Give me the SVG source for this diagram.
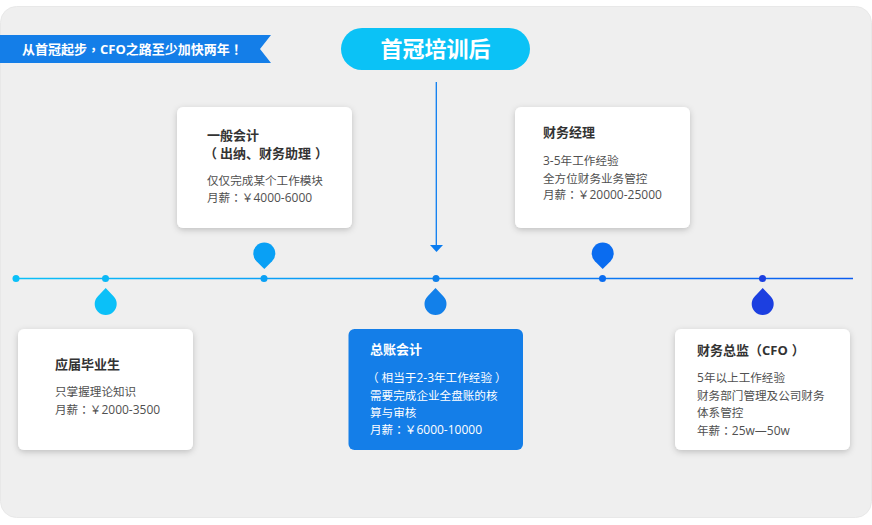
<svg xmlns="http://www.w3.org/2000/svg" width="872" height="525" viewBox="0 0 872 525">
<style>
text{font-family:"Noto Sans CJK SC","Open Sans",sans-serif}
.t{font-size:13px;font-weight:700;fill:#333}
.b{font-size:11.6px;fill:#505050}
.n{font-family:"Open Sans","Noto Sans CJK SC",sans-serif;font-size:12px}
.m{font-family:"Open Sans","Noto Sans CJK SC",sans-serif}
.p{font-family:"Noto Sans CJK TC","Noto Sans CJK SC",sans-serif}
.card{fill:#fff;filter:url(#sh)}
text.w,.w{fill:#fff}
</style>
<defs>
<linearGradient id="line" gradientUnits="userSpaceOnUse" x1="16" y1="0" x2="853" y2="0"><stop offset="0" stop-color="#0bc0f8"/><stop offset="0.5" stop-color="#0a8cf6"/><stop offset="1" stop-color="#0b5cf0"/></linearGradient>
<filter id="sh" x="-10%" y="-10%" width="120%" height="125%"><feDropShadow dx="0" dy="2" stdDeviation="3" flood-color="#000" flood-opacity="0.2"/></filter>
<path id="up" d="M0 -16L7.800 -7.800A11 11 0 1 1 -7.800 -7.800Z"/>
<path id="down" d="M0 15.500L7.800 7.800A11 11 0 1 0 -7.800 7.800Z"/>
</defs>
<rect x="0.500" y="6.500" width="871" height="511" rx="16" fill="#efefef" stroke="#e8e8e8"/>
<g id="banner"><path d="M0 35H271L260 49L271 63H0Z" fill="#147ee8"/><text x="22" y="54" font-size="13" font-weight="700" class="w">从首冠起步<tspan class="p">，</tspan><tspan class="m">CFO</tspan>之路至少加快两年<tspan class="p">！</tspan></text></g>
<g id="title"><rect x="341" y="28" width="189" height="42" rx="21" fill="#0bc2f6"/><text x="435.500" y="56.500" font-size="22" font-weight="700" class="w" text-anchor="middle">首冠培训后</text></g>
<g id="connectors">
<line x1="16" y1="278.500" x2="853" y2="278.500" stroke="url(#line)" stroke-width="1.500"/>
<path d="M436.300 82V246" stroke="#0a7cf0" stroke-width="1.300" fill="none"/><path d="M430 245H443L436.500 252Z" fill="#0a7cf0"/>
</g>
<g id="timeline-dots">
<circle cx="16" cy="278.500" r="3.500" fill="#0bc0f8"/>
<circle cx="105.500" cy="278.500" r="3.500" fill="#0bb8f6"/>
<circle cx="264" cy="278.500" r="3.500" fill="#09a0f5"/>
<circle cx="436" cy="278.500" r="3.500" fill="#0f80ea"/>
<circle cx="602.500" cy="278.500" r="3.500" fill="#0a6cf0"/>
<circle cx="762.500" cy="278.500" r="3.500" fill="#1c3fe0"/>
<use href="#up" x="105.700" y="304" fill="#0bc0f8"/>
<use href="#down" x="264.300" y="253.400" fill="#09a0f5"/>
<use href="#up" x="435.500" y="304" fill="#1280ea"/>
<use href="#down" x="602.700" y="253.400" fill="#0a6cf0"/>
<use href="#up" x="762.700" y="304" fill="#1c3fe0"/>
</g>
<g id="node-1"><rect class="card" x="18" y="329" width="175" height="121" rx="6"/><text x="55" y="369" class="t">应届毕业生</text><text x="55" y="396" class="b">只掌握理论知识</text><text x="55" y="414" class="b">月薪<tspan class="p">：</tspan>￥<tspan class="n">2000-3500</tspan></text></g>
<g id="node-2"><rect class="card" x="177" y="107" width="175" height="121" rx="6"/><text x="207" y="140" class="t">一般会计</text><text x="207" y="158" class="t"><tspan dx="-3">（</tspan><tspan dx="3">出纳、财务助理</tspan><tspan dx="4">）</tspan></text><text x="207" y="185" class="b">仅仅完成某个工作模块</text><text x="207" y="202" class="b">月薪<tspan class="p">：</tspan>￥<tspan class="n">4000-6000</tspan></text></g>
<g id="node-3"><rect x="348.500" y="329" width="174.500" height="121" rx="6" fill="#147ee8"/><text x="370" y="354" class="t w">总账会计</text><text x="370" y="382" class="b w"><tspan dx="-3">（</tspan><tspan dx="3">相当于</tspan><tspan class="n">2-3</tspan>年工作经验<tspan dx="3">）</tspan></text><text x="370" y="400" class="b w">需要完成企业全盘账的核</text><text x="370" y="417" class="b w">算与审核</text><text x="370" y="434" class="b w">月薪<tspan class="p">：</tspan>￥<tspan class="n">6000-10000</tspan></text></g>
<g id="node-4"><rect class="card" x="515" y="107" width="175" height="121" rx="6"/><text x="543" y="137" class="t">财务经理</text><text x="543" y="165" class="b"><tspan class="n">3-5</tspan>年工作经验</text><text x="543" y="183" class="b">全方位财务业务管控</text><text x="543" y="199" class="b">月薪<tspan class="p">：</tspan>￥<tspan class="n">20000-25000</tspan></text></g>
<g id="node-5"><rect class="card" x="675" y="329" width="175" height="121" rx="6"/><text x="697" y="355" class="t">财务总监（<tspan class="m">CFO</tspan><tspan dx="4">）</tspan></text><text x="697" y="382" class="b"><tspan class="n">5</tspan>年以上工作经验</text><text x="697" y="400" class="b">财务部门管理及公司财务</text><text x="697" y="417" class="b">体系管控</text><text x="697" y="435" class="b">年薪<tspan class="p">：</tspan><tspan class="n">25w—50w</tspan></text></g>
</svg>
